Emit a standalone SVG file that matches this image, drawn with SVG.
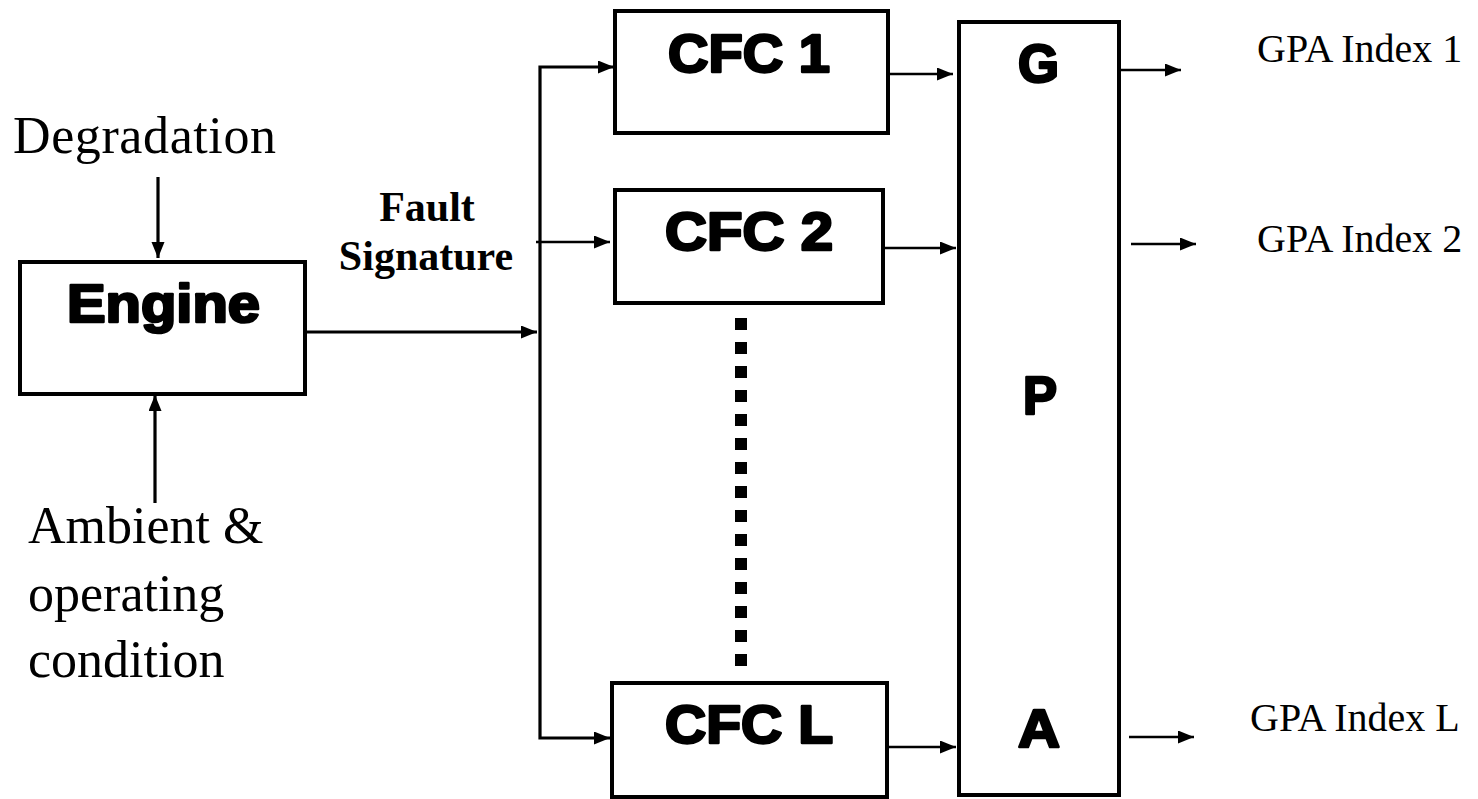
<svg xmlns="http://www.w3.org/2000/svg" width="1478" height="799" viewBox="0 0 1478 799">
<style>
.box{fill:#fff;stroke:#000;stroke-width:4}
.blk{font-family:"Liberation Sans",Arial,sans-serif;font-weight:bold;font-size:53px;fill:#000;stroke:#000;stroke-width:2.6;stroke-linejoin:round}
.ser{font-family:"Liberation Serif","Times New Roman",serif;font-size:52px;fill:#000}
.lbl{font-family:"Liberation Serif","Times New Roman",serif;font-size:40px;fill:#000}
.fs{font-family:"Liberation Serif","Times New Roman",serif;font-size:42px;font-weight:bold;fill:#000}
.c{fill:none;stroke:#000;stroke-width:3.2}
.t{fill:none;stroke:#000;stroke-width:2.6}
</style>
<defs>
<marker id="ah" markerUnits="userSpaceOnUse" markerWidth="18" markerHeight="14" refX="16" refY="6.5" orient="auto-start-reverse">
<path d="M0,0 L16,6.5 L0,13 Z" fill="#000"/>
</marker>
</defs>
<g id="connectors">
<line class="c" x1="158" y1="177" x2="158" y2="258" marker-end="url(#ah)"/>
<line class="c" x1="155" y1="503" x2="155" y2="395" marker-end="url(#ah)"/>
<line class="c" x1="305" y1="332" x2="537" y2="332" marker-end="url(#ah)"/>
<path class="c" d="M614,67 H540 V738 H610" marker-start="url(#ah)" marker-end="url(#ah)"/>
<line class="t" x1="536" y1="242" x2="610" y2="242" marker-end="url(#ah)"/>
<line class="t" x1="888" y1="74" x2="953" y2="74" marker-end="url(#ah)"/>
<line class="t" x1="885" y1="248" x2="956" y2="248" marker-end="url(#ah)"/>
<line class="t" x1="889" y1="747" x2="956" y2="747" marker-end="url(#ah)"/>
<line class="t" x1="1116" y1="70" x2="1181" y2="70" marker-end="url(#ah)"/>
<line class="t" x1="1131" y1="244" x2="1196" y2="244" marker-end="url(#ah)"/>
<line class="t" x1="1129" y1="737" x2="1194" y2="737" marker-end="url(#ah)"/>
<line x1="741" y1="318" x2="741" y2="666" stroke="#000" stroke-width="12" stroke-dasharray="12 12"/>
</g>
<g id="degradation"><text class="ser" x="13" y="153" textLength="263">Degradation</text></g>
<g id="ambient">
<text class="ser" x="28" y="543">Ambient &amp;</text>
<text class="ser" x="28" y="611">operating</text>
<text class="ser" x="28" y="677">condition</text>
</g>
<g id="engine">
<rect class="box" x="20" y="262" width="285" height="132"/>
<text class="blk" x="67" y="322" textLength="193" lengthAdjust="spacingAndGlyphs">Engine</text>
</g>
<g id="fault-signature">
<text class="fs" x="427" y="221" text-anchor="middle">Fault</text>
<text class="fs" x="426" y="270" text-anchor="middle">Signature</text>
</g>
<g id="cfc1">
<rect class="box" x="615" y="11" width="273" height="122"/>
<text class="blk" x="668" y="72" font-size="56" textLength="162" lengthAdjust="spacingAndGlyphs">CFC 1</text>
</g>
<g id="cfc2">
<rect class="box" x="615" y="190" width="268" height="113"/>
<text class="blk" x="665" y="250" font-size="54" textLength="168" lengthAdjust="spacingAndGlyphs">CFC 2</text>
</g>
<g id="cfcL">
<rect class="box" x="612" y="683" width="275" height="114"/>
<text class="blk" x="665" y="743" font-size="52" textLength="168" lengthAdjust="spacingAndGlyphs">CFC L</text>
</g>
<g id="gpa">
<rect class="box" x="959" y="22" width="160" height="773"/>
<text class="blk" x="1018" y="82" textLength="41" lengthAdjust="spacingAndGlyphs">G</text>
<text class="blk" x="1023" y="414" textLength="34" lengthAdjust="spacingAndGlyphs">P</text>
<text class="blk" x="1018" y="747" textLength="42" lengthAdjust="spacingAndGlyphs">A</text>
</g>
<g id="outputs">
<text class="lbl" x="1257" y="62">GPA Index 1</text>
<text class="lbl" x="1257" y="252">GPA Index 2</text>
<text class="lbl" x="1250" y="731">GPA Index L</text>
</g>
</svg>
